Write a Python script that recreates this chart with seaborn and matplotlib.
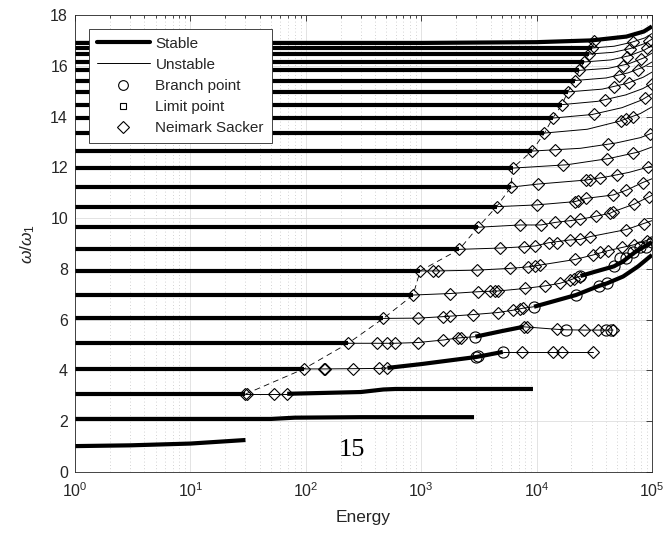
import numpy as np
import matplotlib
matplotlib.use("Agg")
import matplotlib.pyplot as plt
import seaborn as sns
from matplotlib.lines import Line2D
from matplotlib.ticker import LogLocator

# ---------------- data ----------------
# Stable (thick) branches
stable_x = [
    [1, 3, 10, 30],
    [1, 50, 80, 300, 2870],
    [1, 30],
    [69, 300, 470, 600, 9300],
    [1, 96],
    [510, 1000, 3000, 5100],
    [1, 233],
    [2950, 5000, 7700],
    [1, 470],
    [9500, 21900, 34700, 40700, 56200, 75900, 100000],
    [1, 850],
    [24000, 31600, 46800, 56200, 70800, 100000],
    [1, 980], [1, 2140], [1, 3100], [1, 4500], [1, 6000], [1, 6200],
    [1, 9100], [1, 11700], [1, 13800], [1, 16600], [1, 18600], [1, 21400],
    [1, 23400], [1, 25700], [1, 28200], [1, 30200],
    [1, 1000, 10000, 30000, 60000, 85000, 100000],
]
stable_y = [
    [1.02, 1.05, 1.12, 1.26],
    [2.09, 2.09, 2.14, 2.16, 2.16],
    [3.07, 3.07],
    [3.08, 3.15, 3.25, 3.27, 3.27],
    [4.06, 4.06],
    [4.10, 4.25, 4.53, 4.73],
    [5.07, 5.07],
    [5.33, 5.55, 5.72],
    [6.05, 6.05],
    [6.51, 6.97, 7.33, 7.43, 7.70, 8.10, 8.55],
    [6.97, 6.97],
    [7.72, 7.88, 8.10, 8.30, 8.65, 9.06],
    [7.92, 7.92], [8.77, 8.77], [9.64, 9.64], [10.45, 10.45], [11.22, 11.22],
    [11.97, 11.97], [12.64, 12.64], [13.35, 13.35], [13.94, 13.94],
    [14.47, 14.47], [14.97, 14.97], [15.42, 15.42], [15.82, 15.82],
    [16.15, 16.15], [16.46, 16.46], [16.70, 16.70],
    [16.90, 16.90, 16.93, 17.00, 17.15, 17.35, 17.55],
]

# Unstable (thin) branches
unstable_x = [
    [30, 53, 69],
    [96, 145, 257, 435, 510],
    [5100, 7500, 13900, 16600, 31000],
    [233, 415, 510, 590, 940, 1560, 2100, 2950],
    [7700, 15000, 18000, 26000, 34000, 46000],
    [470, 940, 1560, 2800, 4600, 6200, 7600, 9500],
    [850, 1780, 3100, 4650, 7950, 11800, 15900, 19500, 24000],
    [980, 1410, 3020, 5890, 8500, 10700, 21500, 31000, 41700, 70000, 100000],
    [2140, 4800, 7700, 9700, 12700, 19500, 23800, 29000, 60000, 100000],
    [3100, 7200, 10900, 14500, 19500, 23800, 33000, 43300, 46000, 70000, 100000],
    [4500, 10000, 21500, 27000, 46000, 60000, 83000, 100000],
    [6000, 10200, 26900, 39800, 63100, 100000],
    [6200, 18200, 42700, 75900, 100000],
    [9100, 24000, 49000, 79400, 100000],
    [11700, 27500, 52500, 79400, 100000],
    [13800, 30200, 55000, 81300, 100000],
    [16600, 33900, 58900, 83200, 100000],
    [18600, 37000, 60000, 84000, 100000],
    [21400, 40000, 62000, 85000, 100000],
    [23400, 42000, 63000, 86000, 100000],
    [25700, 44000, 64000, 86000, 100000],
    [28200, 46000, 65000, 87000, 100000],
    [30200, 47000, 66000, 87000, 100000],
]
unstable_y = [
    [3.07, 3.07, 3.07],
    [4.06, 4.06, 4.07, 4.08, 4.10],
    [4.73, 4.73, 4.73, 4.73, 4.73],
    [5.07, 5.07, 5.07, 5.07, 5.10, 5.20, 5.28, 5.33],
    [5.72, 5.62, 5.60, 5.59, 5.59, 5.59],
    [6.05, 6.06, 6.12, 6.20, 6.28, 6.37, 6.45, 6.51],
    [6.97, 7.03, 7.10, 7.13, 7.23, 7.33, 7.43, 7.56, 7.72],
    [7.92, 7.92, 7.95, 8.02, 8.08, 8.15, 8.37, 8.55, 8.72, 8.95, 9.20],
    [8.77, 8.82, 8.87, 8.90, 9.03, 9.14, 9.16, 9.27, 9.55, 9.90],
    [9.64, 9.73, 9.73, 9.83, 9.90, 9.95, 10.08, 10.19, 10.25, 10.55, 10.90],
    [10.45, 10.52, 10.65, 10.78, 10.91, 11.10, 11.40, 11.55],
    [11.22, 11.34, 11.50, 11.62, 11.80, 12.05],
    [11.97, 12.10, 12.35, 12.60, 12.80],
    [12.64, 12.75, 12.96, 13.17, 13.35],
    [13.35, 13.50, 13.82, 14.12, 14.38],
    [13.94, 14.08, 14.35, 14.65, 14.90],
    [14.47, 14.60, 14.85, 15.10, 15.30],
    [14.97, 15.08, 15.30, 15.55, 15.75],
    [15.42, 15.52, 15.72, 15.96, 16.15],
    [15.82, 15.90, 16.08, 16.32, 16.50],
    [16.15, 16.23, 16.40, 16.62, 16.80],
    [16.46, 16.53, 16.68, 16.88, 17.05],
    [16.70, 16.77, 16.92, 17.10, 17.27],
]

# Dashed line through the first Neimark-Sacker points
ns_x = [30, 96, 233, 470, 850, 980, 2140, 3100, 4500, 6000, 6200, 9100, 11700,
        13800, 16600, 18600, 21400, 23400, 25700, 28200, 30200, 31600]
ns_y = [3.07, 4.06, 5.07, 6.05, 6.97, 7.92, 8.77, 9.64, 10.45, 11.22, 11.97,
        12.64, 13.35, 13.94, 14.47, 14.97, 15.42, 15.82, 16.15, 16.46, 16.70, 16.95]

# Neimark Sacker points
nsk_x = [30, 31, 53, 69,
         96, 145, 148, 257, 435, 510, 7500, 13900, 16600, 31000,
         233, 415, 510, 590, 940, 1560, 2100, 2200, 7700, 8300, 15000, 26000, 34000, 46000,
         470, 940, 1560, 1780, 2800, 4600, 6200, 7200, 7600,
         850, 1780, 3100, 3950, 4360, 4650, 7950, 11800, 15900, 19500, 21000, 23700,
         980, 1260, 1410, 3020, 5890, 8500, 9700, 10700, 21500, 31000, 35500, 41700, 55000, 70000, 90000,
         2140, 4800, 7700, 9700, 12700, 14900, 19500, 23800, 29000, 60000, 85000,
         3100, 7200, 10900, 14500, 19500, 23800, 33000, 43300, 46000, 70000, 95000,
         4500, 10000, 21500, 23000, 27000, 46000, 60000, 83000,
         6000, 10200, 26900, 29000, 35500, 50000, 93000,
         6200, 17000, 40700, 69000,
         9100, 14500, 41700, 97000,
         11700, 53700, 60000, 69000,
         13800, 31600, 87000,
         16600, 38900, 100000,
         18600, 46800, 63000,
         21400, 51300, 76000,
         23400, 56200, 80000,
         25700, 60300, 91000,
         28200, 64600, 95000,
         30200, 69000,
         31600]
nsk_y = [3.07, 3.07, 3.07, 3.07,
         4.06, 4.06, 4.06, 4.07, 4.08, 4.10, 4.73, 4.73, 4.73, 4.73,
         5.07, 5.07, 5.07, 5.07, 5.10, 5.20, 5.28, 5.29, 5.72, 5.70, 5.62, 5.59, 5.59, 5.59,
         6.05, 6.06, 6.12, 6.14, 6.20, 6.28, 6.37, 6.42, 6.45,
         6.97, 7.03, 7.10, 7.13, 7.13, 7.13, 7.23, 7.33, 7.43, 7.56, 7.62, 7.70,
         7.92, 7.92, 7.92, 7.95, 8.02, 8.08, 8.13, 8.15, 8.37, 8.55, 8.65, 8.72, 8.85, 8.95, 9.10,
         8.77, 8.82, 8.87, 8.90, 9.03, 9.03, 9.14, 9.16, 9.27, 9.55, 9.75,
         9.64, 9.73, 9.73, 9.83, 9.90, 9.95, 10.08, 10.19, 10.25, 10.55, 10.85,
         10.45, 10.52, 10.65, 10.68, 10.78, 10.91, 11.10, 11.40,
         11.22, 11.34, 11.50, 11.52, 11.58, 11.70, 12.00,
         11.97, 12.09, 12.33, 12.55,
         12.64, 12.70, 12.90, 13.33,
         13.35, 13.83, 13.90, 14.00,
         13.94, 14.09, 14.72,
         14.47, 14.64, 15.30,
         14.97, 15.17, 15.33,
         15.42, 15.60, 15.85,
         15.82, 16.00, 16.25,
         16.15, 16.35, 16.70,
         16.46, 16.67, 16.98,
         16.70, 16.95,
         16.97]

# Branch points
bp_x = [3000, 3100, 5100, 2950, 18000, 40000, 44000, 9500, 21900, 34700, 40700,
        24000, 46800, 52500, 60000, 69000, 79000, 89000, 100000]
bp_y = [4.53, 4.55, 4.73, 5.33, 5.60, 5.59, 5.59, 6.51, 6.97, 7.33, 7.43,
        7.72, 8.10, 8.43, 8.43, 8.65, 8.86, 8.86, 9.06]

legend_labels = ["Stable", "Unstable", "Branch point", "Limit point", "Neimark Sacker"]
y_ticks = [0, 2, 4, 6, 8, 10, 12, 14, 16, 18]

# ---------------- style ----------------
sns.set_style("whitegrid")
plt.rcParams["font.family"] = ["Liberation Sans", "DejaVu Sans"]
plt.rcParams["mathtext.fontset"] = "custom"
plt.rcParams["mathtext.rm"] = "Liberation Sans"
plt.rcParams["mathtext.it"] = "Liberation Sans:italic"

W, H = 669, 540
fig = plt.figure(figsize=(W / 100, H / 100), dpi=100)
ax = fig.add_axes([75 / W, 1 - 472 / H, 577 / W, 457 / H])
ax.set_xscale("log")
ax.set_xlim(1, 1e5)
ax.set_ylim(0, 18)

dark = "#262626"

for xs, ys in zip(stable_x, stable_y):
    sns.lineplot(x=xs, y=ys, ax=ax, color="k", linewidth=3.0, sort=False,
                 estimator=None, legend=False, solid_capstyle="butt")
for xs, ys in zip(unstable_x, unstable_y):
    sns.lineplot(x=xs, y=ys, ax=ax, color="k", linewidth=0.7, sort=False,
                 estimator=None, legend=False)
sns.lineplot(x=ns_x, y=ns_y, ax=ax, color="k", linewidth=0.6, sort=False,
             estimator=None, legend=False)
ax.lines[-1].set_dashes([7, 5])

ax.plot(nsk_x, nsk_y, ls="none", marker="D", ms=6.6, mfc="none", mec="k", mew=0.8)
ax.plot(bp_x, bp_y, ls="none", marker="o", ms=8.0, mfc="none", mec="k", mew=0.8)

# axes cosmetics
ax.set_yticks(y_ticks)
ax.xaxis.set_major_locator(LogLocator(base=10, numticks=10))
ax.xaxis.set_minor_locator(LogLocator(base=10, subs=np.arange(2, 10), numticks=100))
ax.grid(which="major", color="#dedede", lw=0.6, ls="-")
ax.grid(which="minor", axis="x", color="#c4c4c4", lw=0.6, ls=(0, (1, 3)))
ax.set_axisbelow(True)
ax.tick_params(which="both", direction="in", top=True, right=True, color=dark,
               labelsize=11.5, labelcolor=dark, width=0.6)
ax.tick_params(which="major", length=4)
ax.tick_params(which="minor", length=2.5)
ax.tick_params(axis="x", which="major", pad=7)
ax.tick_params(axis="y", which="major", pad=5)
for s in ax.spines.values():
    s.set_color(dark)
    s.set_linewidth(0.6)

ax.set_xlabel("Energy", fontsize=12.5, color=dark)
ax.set_ylabel(r"$\omega/\omega_1$", fontsize=12.5, color=dark)
ax.xaxis.set_label_coords(0.5, -0.083)
ax.yaxis.set_label_coords(-0.066, 0.5)

ax.text(250, 0.85, "15", fontfamily=["Liberation Serif", "DejaVu Serif"], fontsize=19,
        ha="center", va="center", color="k")

handles = [
    Line2D([], [], color="k", lw=3.0),
    Line2D([], [], color="k", lw=0.7),
    Line2D([], [], ls="none", marker="o", ms=7, mfc="none", mec="k", mew=0.8),
    Line2D([], [], ls="none", marker="s", ms=5, mfc="none", mec="k", mew=0.8),
    Line2D([], [], ls="none", marker="D", ms=6, mfc="none", mec="k", mew=0.8),
]
leg = ax.legend(handles, legend_labels, loc="upper left",
                bbox_to_anchor=(14 / 577, 1 - 14 / 457), borderaxespad=0,
                frameon=True, fancybox=False, framealpha=1, edgecolor=dark,
                fontsize=11, handlelength=3.5, handletextpad=0.35,
                labelspacing=0.47, borderpad=0.5)
leg.get_frame().set_linewidth(0.6)

fig.savefig("out.png", dpi=100)
